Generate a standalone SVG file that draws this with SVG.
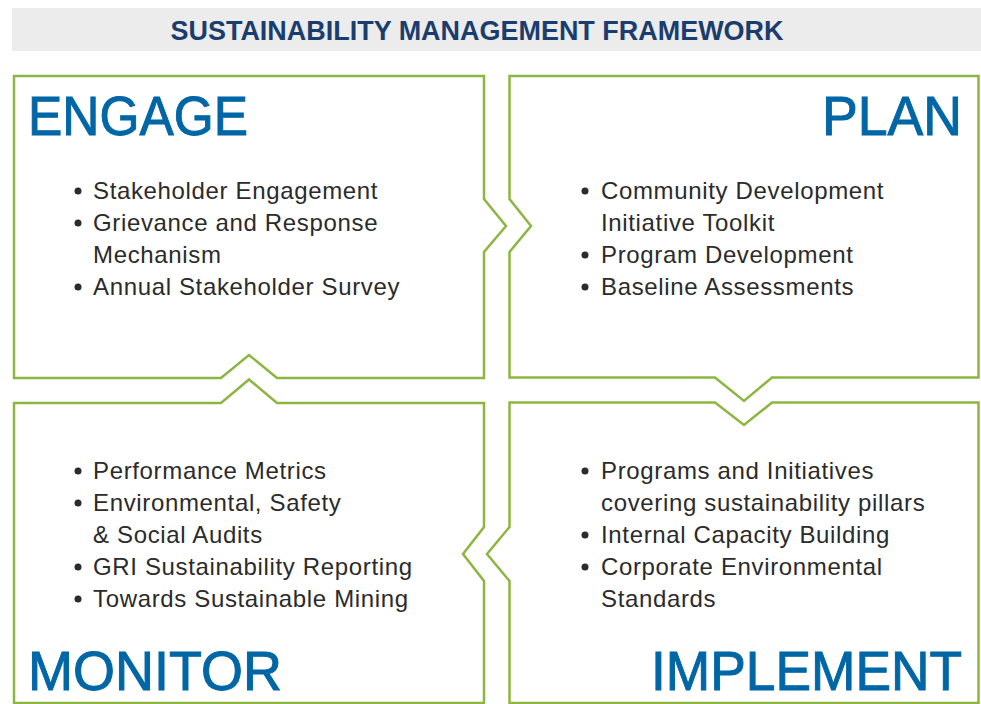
<svg xmlns="http://www.w3.org/2000/svg" width="981" height="704" viewBox="0 0 981 704">
<style>
.box{fill:#ffffff;stroke:#8db640;stroke-width:2.5;stroke-linejoin:miter}
.head{font-family:"Liberation Sans",Arial,sans-serif;font-size:56px;fill:#0066a6;stroke:#0066a6;stroke-width:1}
.item{font-family:"Liberation Sans",Arial,sans-serif;font-size:24px;fill:#2b2b2b;letter-spacing:0.65px}
.dot{fill:#2b2b2b}
.title{font-family:"Liberation Sans",Arial,sans-serif;font-size:27px;font-weight:bold;fill:#1b3d6e}
</style>
<rect x="12" y="8" width="969" height="43" fill="#ececec"/>
<text class="title" x="477" y="40" text-anchor="middle" textLength="613" lengthAdjust="spacingAndGlyphs">SUSTAINABILITY MANAGEMENT FRAMEWORK</text>
<g id="connectors"></g>
<g id="engage">
<path class="box" d="M14,76 H484 V199 L506,226 L484,252 V378 H277 L249,355 L221,378 H14 Z"/>
<text class="head" x="28" y="135" textLength="220" lengthAdjust="spacingAndGlyphs">ENGAGE</text>
<circle class="dot" cx="78" cy="191" r="3.5"/>
<circle class="dot" cx="78" cy="223" r="3.5"/>
<circle class="dot" cx="78" cy="287" r="3.5"/>
<text class="item" x="93" y="199">Stakeholder Engagement</text>
<text class="item" x="93" y="231">Grievance and Response</text>
<text class="item" x="93" y="263">Mechanism</text>
<text class="item" x="93" y="295">Annual Stakeholder Survey</text>
</g>
<g id="plan">
<path class="box" d="M509.5,76 H978.5 V377.5 H772 L744,401 L715,377.5 H509.5 V252 L531,226 L509.5,199 Z"/>
<text class="head" x="822" y="135" textLength="140" lengthAdjust="spacingAndGlyphs">PLAN</text>
<circle class="dot" cx="585" cy="191" r="3.5"/>
<circle class="dot" cx="585" cy="255" r="3.5"/>
<circle class="dot" cx="585" cy="287" r="3.5"/>
<text class="item" x="601" y="199">Community Development</text>
<text class="item" x="601" y="231">Initiative Toolkit</text>
<text class="item" x="601" y="263">Program Development</text>
<text class="item" x="601" y="295">Baseline Assessments</text>
</g>
<g id="monitor">
<path class="box" d="M14,403 H221 L249,379.5 L277,403 H484 V527 L463,554 L484,581 V703 H14 Z"/>
<text class="head" x="28" y="690" textLength="254" lengthAdjust="spacingAndGlyphs">MONITOR</text>
<circle class="dot" cx="78" cy="471" r="3.5"/>
<circle class="dot" cx="78" cy="503" r="3.5"/>
<circle class="dot" cx="78" cy="567" r="3.5"/>
<circle class="dot" cx="78" cy="599" r="3.5"/>
<text class="item" x="93" y="479">Performance Metrics</text>
<text class="item" x="93" y="511">Environmental, Safety</text>
<text class="item" x="93" y="543">&amp; Social Audits</text>
<text class="item" x="93" y="575">GRI Sustainability Reporting</text>
<text class="item" x="93" y="607">Towards Sustainable Mining</text>
</g>
<g id="implement">
<path class="box" d="M509.5,402.5 H715 L744,425 L772,402.5 H978.5 V703 H509.5 V581 L487,554 L509.5,527 Z"/>
<text class="head" x="651" y="690" textLength="311" lengthAdjust="spacingAndGlyphs">IMPLEMENT</text>
<circle class="dot" cx="585" cy="471" r="3.5"/>
<circle class="dot" cx="585" cy="535" r="3.5"/>
<circle class="dot" cx="585" cy="567" r="3.5"/>
<text class="item" x="601" y="479">Programs and Initiatives</text>
<text class="item" x="601" y="511">covering sustainability pillars</text>
<text class="item" x="601" y="543">Internal Capacity Building</text>
<text class="item" x="601" y="575">Corporate Environmental</text>
<text class="item" x="601" y="607">Standards</text>
</g>
</svg>
